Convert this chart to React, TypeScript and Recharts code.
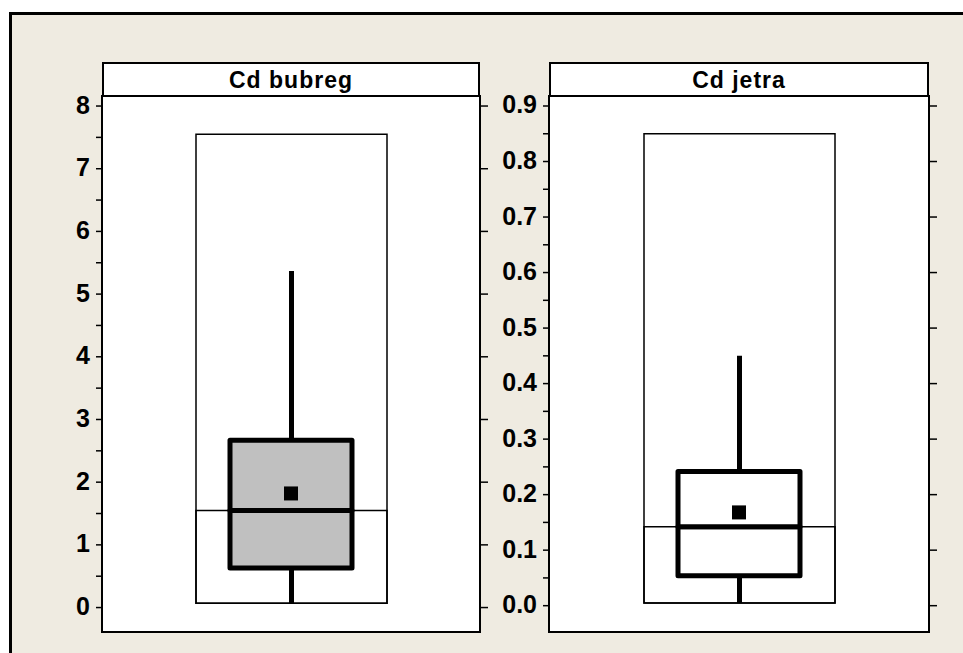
import React from 'react';
import { ComposedChart, Bar, Scatter, XAxis, YAxis, ReferenceArea } from 'recharts';

const FONT = '"Liberation Sans", Arial, Helvetica, sans-serif';
const PAPER = '#EFEBE1';

// Cd bubreg (kidney)
const bubregTitle = 'Cd bubreg';
const bubregRange = [0.07, 7.55];
const bubregWhisker = [0.07, 5.37];
const bubregQuartiles = [0.63, 1.55, 2.67];
const bubregMean = 1.82;
const bubregDomain = [-0.39, 8.16];
const bubregMajorTicks = [0, 1, 2, 3, 4, 5, 6, 7, 8];
const bubregMinorTicks = [0.5, 1.5, 2.5, 3.5, 4.5, 5.5, 6.5, 7.5];
const bubregLabels = ['0', '1', '2', '3', '4', '5', '6', '7', '8'];

// Cd jetra (liver)
const jetraTitle = 'Cd jetra';
const jetraRange = [0.005, 0.85];
const jetraWhisker = [0.005, 0.45];
const jetraQuartiles = [0.054, 0.142, 0.2415];
const jetraMean = 0.168;
const jetraDomain = [-0.0474, 0.918];
const jetraMajorTicks = [0, 0.1, 0.2, 0.3, 0.4, 0.5, 0.6, 0.7, 0.8, 0.9];
const jetraMinorTicks = [0.05, 0.15, 0.25, 0.35, 0.45, 0.55, 0.65, 0.75, 0.85];
const jetraLabels = ['0.0', '0.1', '0.2', '0.3', '0.4', '0.5', '0.6', '0.7', '0.8', '0.9'];

type Row = {
  name: string;
  rangeLow: number;
  rangeHigh: number;
  whiskerLow: number;
  whiskerHigh: number;
  q1: number;
  median: number;
  q3: number;
  mean: number;
};

const makeRow = (name: string, range: number[], whisker: number[], q: number[], mean: number): Row => ({
  name,
  rangeLow: range[0],
  rangeHigh: range[1],
  whiskerLow: whisker[0],
  whiskerHigh: whisker[1],
  q1: q[0],
  median: q[1],
  q3: q[2],
  mean,
});

const bubregRow = makeRow(bubregTitle, bubregRange, bubregWhisker, bubregQuartiles, bubregMean);
const jetraRow = makeRow(jetraTitle, jetraRange, jetraWhisker, jetraQuartiles, jetraMean);

const AXIS_W = 70;
const RIGHT_W = 20;
const PLOT_TOP = 96;
const PLOT_BOTTOM = 632;
const HEADER_TOP = 62;
const PAD = 16; // room above/below the plot so edge labels are not clipped

const MeanSquare = (props: any) => {
  const { cx, cy } = props;
  if (cx == null || cy == null) return null;
  return <rect x={cx - 7} y={cy - 7} width={14} height={14} fill="#000" />;
};

interface PanelProps {
  row: Row;
  domain: number[];
  majors: number[];
  minors: number[];
  labels: string[];
  boxFill: string;
  left: number;
  right: number;
}

const BoxPanel: React.FC<PanelProps> = ({ row, domain, majors, minors, labels, boxFill, left, right }) => {
  const plotW = right - left;
  const width = AXIS_W + plotW + RIGHT_W;
  const height = PLOT_BOTTOM - PLOT_TOP + 2 * PAD;

  const leftTick = (p: any) => {
    const v = p.payload.value;
    const idx = majors.findIndex((m) => Math.abs(m - v) < 1e-9);
    return (
      <g>
        <line x1={p.x - 6} x2={p.x} y1={p.y} y2={p.y} stroke="#000" strokeWidth={1.5} />
        {idx >= 0 && (
          <text
            x={p.x - 12}
            y={p.y}
            dy="0.3em"
            textAnchor="end"
            fontFamily={FONT}
            fontWeight="bold"
            fontSize={25}
            fill="#000"
          >
            {labels[idx]}
          </text>
        )}
      </g>
    );
  };

  const rightTick = (p: any) => (
    <line x1={p.x} x2={p.x + 8} y1={p.y} y2={p.y} stroke="#000" strokeWidth={1.5} />
  );

  const boxStroke = { stroke: '#000', strokeWidth: 5, strokeLinejoin: 'round' as const };

  return (
    <>
      <div
        style={{
          position: 'absolute',
          left,
          top: HEADER_TOP,
          width: plotW,
          height: PLOT_TOP - HEADER_TOP,
          boxSizing: 'border-box',
          border: '2px solid #000',
          borderBottomWidth: 1,
          background: '#fff',
          display: 'flex',
          alignItems: 'center',
          justifyContent: 'center',
          fontFamily: FONT,
          fontWeight: 'bold',
          fontSize: 23,
          letterSpacing: 1,
          paddingTop: 2,
        }}
      >
        {row.name}
      </div>
      <div style={{ position: 'absolute', left: left - AXIS_W, top: PLOT_TOP - PAD }}>
        <ComposedChart
          width={width}
          height={height}
          data={[row]}
          margin={{ top: PAD, bottom: PAD, left: 0, right: 0 }}
        >
          <XAxis xAxisId="frame" dataKey="name" hide />
          <XAxis xAxisId="medianLine" dataKey="name" hide />
          <XAxis xAxisId="whisker" dataKey="name" hide />
          <XAxis xAxisId="lower" dataKey="name" hide />
          <XAxis xAxisId="upper" dataKey="name" hide />
          <YAxis
            yAxisId="l"
            type="number"
            domain={domain}
            allowDataOverflow
            ticks={[...majors, ...minors]}
            interval={0}
            width={AXIS_W}
            tickSize={0}
            tickMargin={0}
            tickLine={false}
            axisLine={false}
            tick={leftTick}
          />
          <YAxis
            yAxisId="r"
            orientation="right"
            type="number"
            domain={domain}
            allowDataOverflow
            ticks={majors}
            interval={0}
            width={RIGHT_W}
            tickSize={0}
            tickMargin={0}
            tickLine={false}
            axisLine={false}
            tick={rightTick}
          />
          <ReferenceArea
            xAxisId="frame"
            yAxisId="l"
            y1={domain[0]}
            y2={domain[1]}
            fill="#fff"
            fillOpacity={1}
            stroke="#000"
            strokeWidth={2}
            ifOverflow="visible"
          />
          <Bar
            xAxisId="frame"
            yAxisId="l"
            dataKey={(d: Row) => [d.rangeLow, d.rangeHigh]}
            barSize={191}
            fill="#fff"
            stroke="#000"
            strokeWidth={1.5}
            isAnimationActive={false}
          />
          <Bar
            xAxisId="medianLine"
            yAxisId="l"
            dataKey={(d: Row) => [d.rangeLow, d.median]}
            barSize={191}
            fill="none"
            stroke="#000"
            strokeWidth={1.5}
            isAnimationActive={false}
          />
          <Bar
            xAxisId="whisker"
            yAxisId="l"
            dataKey={(d: Row) => [d.whiskerLow, d.whiskerHigh]}
            barSize={5}
            fill="#000"
            isAnimationActive={false}
          />
          <Bar
            xAxisId="lower"
            yAxisId="l"
            dataKey={(d: Row) => [d.q1, d.median]}
            barSize={122}
            fill={boxFill}
            {...boxStroke}
            isAnimationActive={false}
          />
          <Bar
            xAxisId="upper"
            yAxisId="l"
            dataKey={(d: Row) => [d.median, d.q3]}
            barSize={122}
            fill={boxFill}
            {...boxStroke}
            isAnimationActive={false}
          />
          <Scatter
            xAxisId="upper"
            yAxisId="l"
            dataKey="mean"
            shape={MeanSquare}
            isAnimationActive={false}
          />
        </ComposedChart>
      </div>
    </>
  );
};

export default function App() {
  return (
    <div
      style={{
        position: 'absolute',
        left: 0,
        top: 0,
        width: 963,
        height: 653,
        overflow: 'hidden',
        background: '#fff',
      }}
    >
      <div
        style={{
          position: 'absolute',
          left: 9,
          top: 12,
          width: 1000,
          height: 700,
          border: '3px solid #000',
          background: PAPER,
        }}
      />
      <BoxPanel
        row={bubregRow}
        domain={bubregDomain}
        majors={bubregMajorTicks}
        minors={bubregMinorTicks}
        labels={bubregLabels}
        boxFill="#C0C0C0"
        left={102}
        right={480}
      />
      <BoxPanel
        row={jetraRow}
        domain={jetraDomain}
        majors={jetraMajorTicks}
        minors={jetraMinorTicks}
        labels={jetraLabels}
        boxFill="#fff"
        left={549}
        right={929}
      />
    </div>
  );
}
